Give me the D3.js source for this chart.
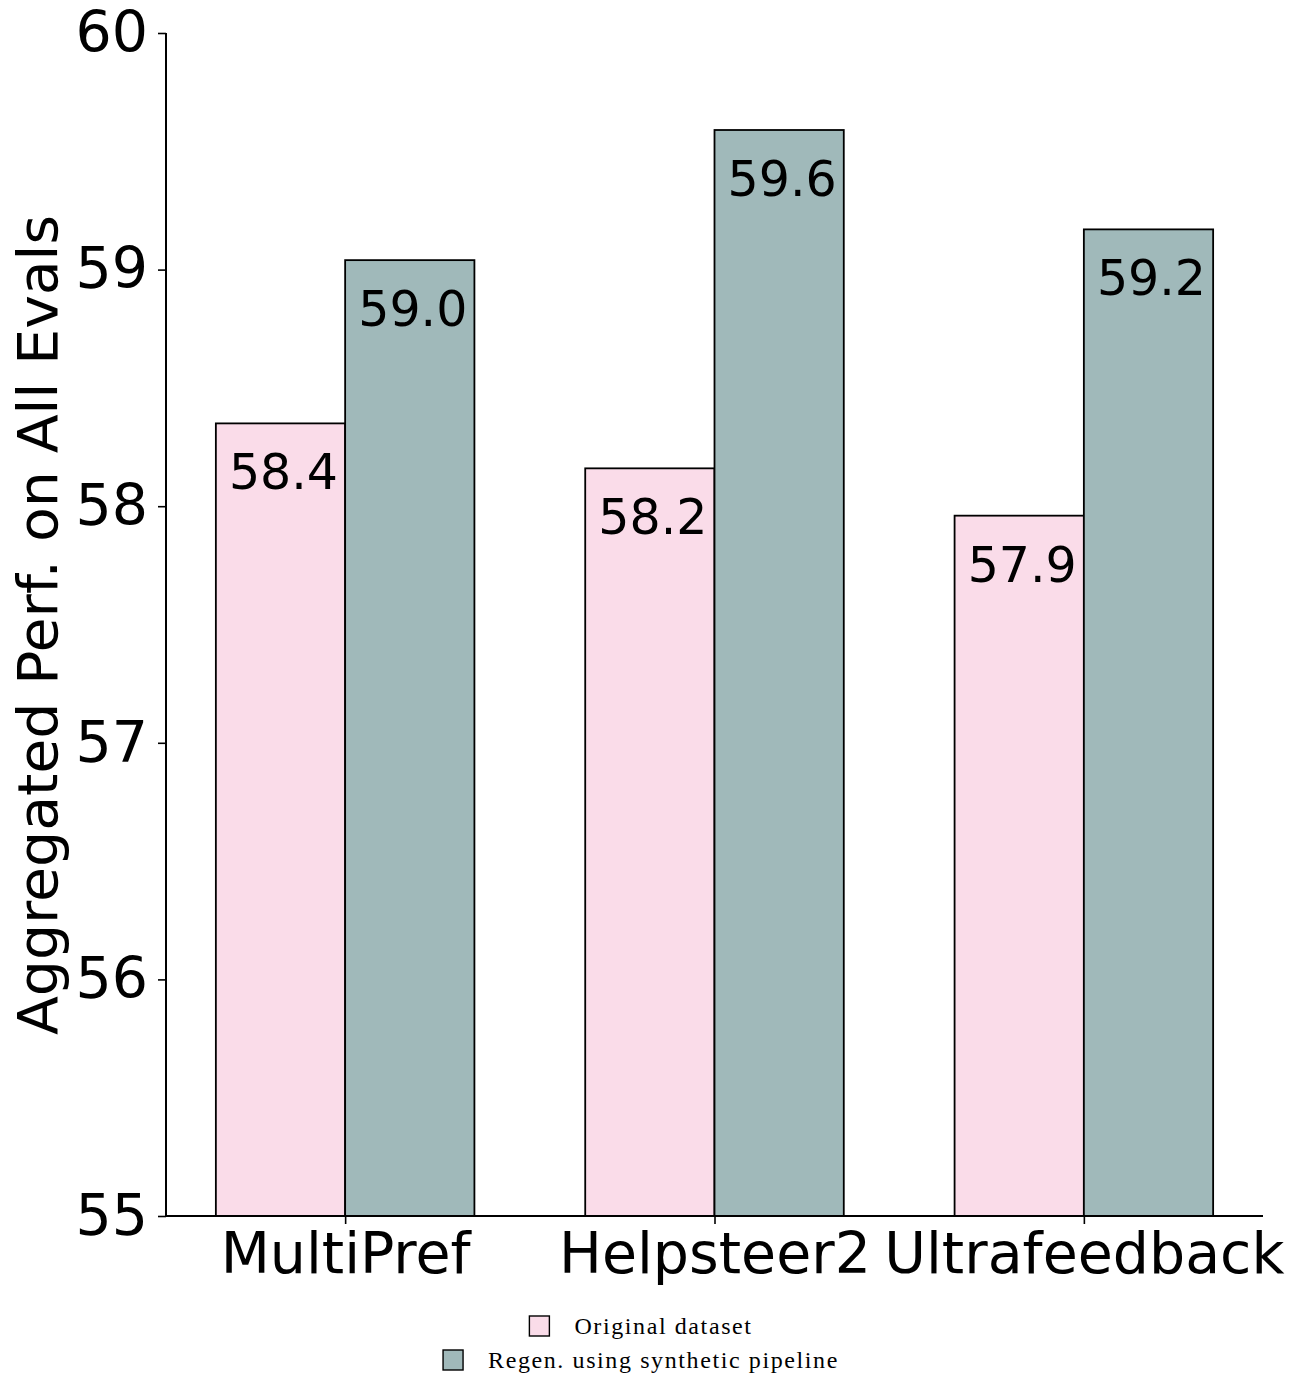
<!DOCTYPE html>
<html>
<head>
<meta charset="utf-8">
<script src="https://cdn.jsdelivr.net/npm/d3@7"></script>
<style>
  body { margin: 0; background: #fff; }
  text { fill: #000; }
</style>
</head>
<body>
<div class="chart"></div>
<script>
// data
const categories = ["MultiPref", "Helpsteer2", "Ultrafeedback"];
const seriesNames = ["Original dataset", "Regen. using synthetic pipeline"];
const originalValues = [58.35, 58.16, 57.96];
const regenValues = [59.04, 59.59, 59.17];
const originalLabels = ["58.4", "58.2", "57.9"];
const regenLabels = ["59.0", "59.6", "59.2"];
const yTicks = [55, 56, 57, 58, 59, 60];
const colors = ["#fadce9", "#a0b9ba"];

const svgWidth = 1297;
const svgHeight = 1386;
const plot = {left: 166, right: 1263, top: 33, bottom: 1216};
const barWidth = 0.35;

const svg = d3.select(".chart").append("svg")
  .attr("width", svgWidth)
  .attr("height", svgHeight)
  .style("font-family", "'DejaVu Sans', sans-serif");

// x runs in category units like matplotlib, with 5% margins
let x = d3.scaleLinear()
  .domain([-0.35 - 0.135, 2.35 + 0.135])
  .range([plot.left, plot.right]);

let y = d3.scaleLinear()
  .domain([55, 60])
  .range([plot.bottom, plot.top]);

const series = [
  {name: seriesNames[0], values: originalValues, labels: originalLabels, offset: -barWidth / 2, color: colors[0]},
  {name: seriesNames[1], values: regenValues, labels: regenLabels, offset: barWidth / 2, color: colors[1]}
];

series.forEach(s => {
  let g = svg.append("g");
  g.selectAll("rect")
    .data(s.values)
    .enter().append("rect")
    .attr("x", (d, i) => x(i + s.offset - barWidth / 2))
    .attr("width", x(barWidth) - x(0))
    .attr("y", d => y(d))
    .attr("height", d => y(55) - y(d))
    .attr("fill", s.color)
    .attr("stroke", "#000")
    .attr("stroke-width", 1.8);

  g.selectAll("text")
    .data(s.values)
    .enter().append("text")
    .attr("x", (d, i) => x(i + s.offset) + 3)
    .attr("y", d => y(d) + 66)
    .attr("text-anchor", "middle")
    .style("font-size", "49px")
    .text((d, i) => s.labels[i]);
});

// axes
let leftAxis = d3.axisLeft(y).tickValues(yTicks).tickFormat(d3.format("d")).tickSize(8).tickPadding(10);
let bottomAxis = d3.axisBottom(x).tickValues([0, 1, 2]).tickFormat(i => categories[i]).tickSize(8).tickPadding(6);

let yAxisG = svg.append("g")
  .attr("transform", `translate(${plot.left},0)`)
  .call(leftAxis);
yAxisG.select(".domain").attr("d", `M0,${plot.top}V${plot.bottom}`);

let xAxisG = svg.append("g")
  .attr("transform", `translate(0,${plot.bottom})`)
  .call(bottomAxis);
xAxisG.select(".domain").attr("d", `M${plot.left},0H${plot.right}`);

[yAxisG, xAxisG].forEach(g => {
  g.attr("font-family", null).attr("font-size", null);
  g.select(".domain").attr("stroke", "#000").attr("stroke-width", 2);
  g.selectAll(".tick line").attr("stroke", "#000").attr("stroke-width", 1.6);
  g.selectAll(".tick text").style("font-size", "57px").attr("fill", "#000");
});
xAxisG.selectAll(".tick text").attr("dy", "0.76em");

// y label
svg.append("text")
  .attr("transform", "translate(57,625) rotate(-90)")
  .attr("text-anchor", "middle")
  .attr("textLength", 820)
  .attr("lengthAdjust", "spacingAndGlyphs")
  .style("font-size", "55px")
  .text("Aggregated Perf. on All Evals");

// legend, each row centred under the plot
const legendCx = 641;
const legendRows = [1334, 1368];
series.forEach((s, i) => {
  let row = svg.append("g");
  let t = row.append("text")
    .attr("y", legendRows[i])
    .style("font-family", "'Liberation Serif', serif")
    .style("font-size", "24px")
    .style("letter-spacing", "1.6px")
    .text(s.name);
  let tw = t.node().getComputedTextLength();
  let total = 20 + 25 + tw;
  let x0 = legendCx - total / 2;
  row.append("rect")
    .attr("x", x0)
    .attr("y", legendRows[i] - 18)
    .attr("width", 20)
    .attr("height", 20)
    .attr("fill", s.color)
    .attr("stroke", "#000")
    .attr("stroke-width", 1.4);
  t.attr("x", x0 + 45);
});
</script>
</body>
</html>
